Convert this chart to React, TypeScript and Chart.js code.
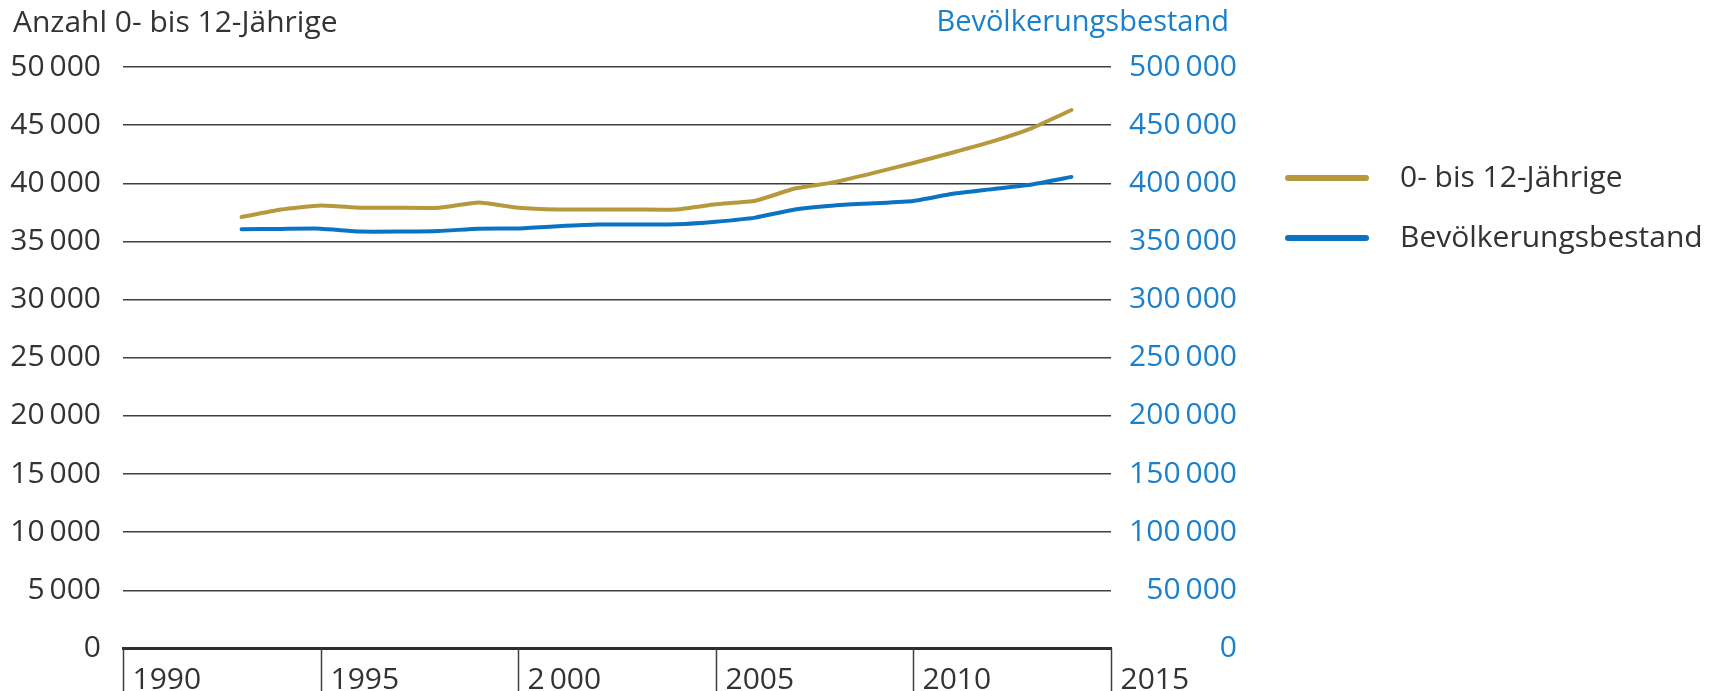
import React, { useEffect, useRef } from "react";
import { Chart, registerables } from "chart.js";

Chart.register(...registerables);

const years = [1993, 1994, 1995, 1996, 1997, 1998, 1999, 2000, 2001, 2002, 2003, 2004, 2005, 2006, 2007, 2008, 2009, 2010, 2011, 2012, 2013, 2014];
const kids = [37100, 37750, 38100, 37900, 37900, 37900, 38350, 37900, 37750, 37750, 37750, 37750, 38200, 38500, 39550, 40100, 40900, 41750, 42650, 43600, 44750, 46300];
const population = [360500, 360800, 361000, 358500, 358500, 359000, 361000, 361200, 363000, 364500, 364500, 364800, 367000, 370500, 377500, 381000, 382800, 384800, 391000, 395000, 399000, 405500];
const xTicks = [1990, 1995, 2000, 2005, 2010, 2015];
const xTickLabels = ["1990", "1995", "2\u2009000", "2005", "2010", "2015"];
const leftTitle = "Anzahl 0- bis 12-Jährige";
const rightTitle = "Bevölkerungsbestand";
const seriesLabels = ["0- bis 12-Jährige", "Bevölkerungsbestand"];

const GOLD = "#b6983d";
const BLUE = "#0b74c2";
const BLUE_TEXT = "#1b80cc";
const TEXT = "#333333";
const GRID = "#3f3f3f";
const FONT = "'Open Sans', 'Noto Sans', sans-serif";
const FS = 30;

const fmt = (v: number) => {
  const s = Math.round(v).toString();
  return s.replace(/\B(?=(\d{3})+(?!\d))/g, "\u2009");
};

const overlay = {
  id: "overlay",
  afterDraw(chart: any) {
    const ctx = chart.ctx;
    const xs = chart.scales.x;
    const area = chart.chartArea;
    ctx.save();
    ctx.strokeStyle = GRID;
    ctx.lineWidth = 1.5;
    ctx.font = `${FS}px ${FONT}`;
    ctx.fillStyle = TEXT;
    ctx.textAlign = "left";
    ctx.textBaseline = "middle";
    xTicks.forEach((t, i) => {
      const px = Math.round(xs.getPixelForValue(t)) + 0.5;
      ctx.beginPath();
      ctx.moveTo(px, area.bottom);
      ctx.lineTo(px, chart.height);
      ctx.stroke();
      ctx.fillText(xTickLabels[i], px + 9, 680);
    });
    ctx.fillStyle = TEXT;
    ctx.textAlign = "left";
    ctx.fillText(leftTitle, 13, 23);
    ctx.font = `29px ${FONT}`;
    ctx.fillStyle = BLUE_TEXT;
    ctx.textAlign = "right";
    ctx.fillText(rightTitle, 1229, 23);
    ctx.font = `${FS}px ${FONT}`;
    const colors = [GOLD, BLUE];
    const ys = [178, 238];
    ctx.lineCap = "round";
    seriesLabels.forEach((lab, i) => {
      ctx.strokeStyle = colors[i];
      ctx.lineWidth = 6;
      ctx.beginPath();
      ctx.moveTo(1288, ys[i]);
      ctx.lineTo(1366, ys[i]);
      ctx.stroke();
      ctx.fillStyle = TEXT;
      ctx.textAlign = "left";
      ctx.fillText(lab, 1400, ys[i]);
    });
    ctx.restore();
  },
};

export default function App() {
  const ref = useRef<HTMLCanvasElement | null>(null);
  useEffect(() => {
    if (!ref.current) return;
    const chart = new Chart(ref.current, {
      type: "line",
      data: {
        datasets: [
          {
            label: seriesLabels[0],
            data: years.map((y, i) => ({ x: y, y: kids[i] })),
            borderColor: GOLD,
            borderWidth: 4,
            pointRadius: 0,
            tension: 0.15,
            borderJoinStyle: "round",
            borderCapStyle: "round",
            yAxisID: "y",
          },
          {
            label: seriesLabels[1],
            data: years.map((y, i) => ({ x: y, y: population[i] })),
            borderColor: BLUE,
            borderWidth: 4,
            pointRadius: 0,
            tension: 0.15,
            borderJoinStyle: "round",
            borderCapStyle: "round",
            yAxisID: "y2",
          },
        ],
      },
      options: {
        responsive: false,
        animation: false,
        devicePixelRatio: 1,
        layout: { padding: { top: 67, left: 0, right: 475, bottom: 0 } },
        plugins: { legend: { display: false }, tooltip: { enabled: false }, title: { display: false } },
        scales: {
          x: {
            type: "linear",
            min: 1990,
            max: 2015,
            grid: { display: false },
            border: { display: true, color: "#2e2e2e", width: 3 },
            ticks: { display: false, stepSize: 5 },
            afterFit: (s: any) => {
              s.height = 42.5;
            },
          },
          y: {
            position: "left",
            min: 0,
            max: 50000,
            grid: { color: GRID, lineWidth: 1.5, drawTicks: false },
            border: { display: false },
            ticks: {
              stepSize: 5000,
              padding: 22,
              color: TEXT,
              font: { family: FONT, size: FS },
              callback: (v: any) => fmt(Number(v)),
            },
            afterFit: (s: any) => {
              s.width = 123;
            },
          },
          y2: {
            position: "right",
            min: 0,
            max: 500000,
            grid: { display: false, drawTicks: false },
            border: { display: false },
            ticks: {
              stepSize: 50000,
              padding: 10,
              crossAlign: "far",
              color: BLUE_TEXT,
              font: { family: FONT, size: FS },
              callback: (v: any) => fmt(Number(v)),
            },
            afterFit: (s: any) => {
              s.width = 126;
            },
          },
        },
      },
      plugins: [overlay],
    } as any);
    return () => chart.destroy();
  }, []);
  return (
    <div style={{ position: "absolute", left: 0, top: 0, width: 1712, height: 691, background: "#fff" }}>
      <canvas ref={ref} width={1712} height={691} style={{ width: 1712, height: 691 }} />
    </div>
  );
}
